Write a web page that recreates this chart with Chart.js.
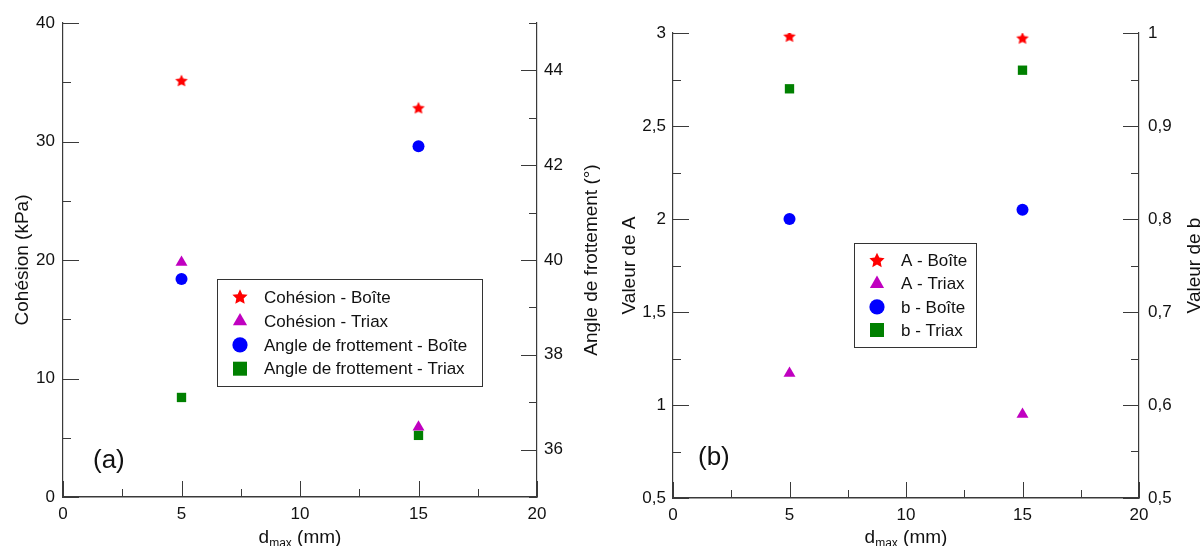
<!DOCTYPE html>
<html><head><meta charset="utf-8">
<script src="https://cdn.jsdelivr.net/npm/chart.js@4.4.1/dist/chart.umd.min.js"></script>
<style>
html,body{margin:0;padding:0;background:#fff;overflow:hidden}
#wrap{position:relative;width:1201px;height:546px;background:#fff}
#ca{position:absolute;left:0;top:0}
#cb{position:absolute;left:600px;top:0}
</style></head><body>
<div id="wrap"><canvas id="ca" width="600" height="546"></canvas><canvas id="cb" width="601" height="546"></canvas></div>
<script>
// ---------- DATA ----------
const dmax = [5, 15];
// panel (a)
const cohesionBoite = [35.1, 32.8];
const cohesionTriax = [19.8, 5.9];
const angleBoite = [39.6, 42.4];
const angleTriax = [37.1, 36.3];
// panel (b)
const aBoite = [2.98, 2.97];
const aTriax = [1.17, 0.95];
const bBoite = [0.80, 0.81];
const bTriax = [0.94, 0.96];
// ticks
const xTicks = [0, 5, 10, 15, 20];
const xMinor = [2.5, 7.5, 12.5, 17.5];
const cohesionTicks = [0, 10, 20, 30, 40];
const cohesionMinor = [5, 15, 25, 35];
const angleTicks = [36, 38, 40, 42, 44];
const angleMinor = [35, 37, 39, 41, 43, 45];
const aTicks = [0.5, 1, 1.5, 2, 2.5, 3];
const aMinor = [0.75, 1.25, 1.75, 2.25, 2.75];
const bTicks = [0.5, 0.6, 0.7, 0.8, 0.9, 1];
const bMinor = [0.55, 0.65, 0.75, 0.85, 0.95];
const labelsA = ['Cohésion - Boîte', 'Cohésion - Triax', 'Angle de frottement - Boîte', 'Angle de frottement - Triax'];
const labelsB = ['A - Boîte', 'A - Triax', 'b - Boîte', 'b - Triax'];

// ---------- STYLE ----------
const FONT = '"Liberation Sans", Arial, Helvetica, sans-serif';
const TXT = '#111';
const AXIS = '#3a3a3a';
const RED = '#ff0000', MAG = '#c000c0', BLUE = '#0000ff', GREEN = '#008000';

function starPath(ctx, cx, cy, R, ratio) {
  const r = R * ratio;
  ctx.beginPath();
  for (let i = 0; i < 10; i++) {
    const rad = -Math.PI / 2 + i * Math.PI / 5;
    const rr = i % 2 === 0 ? R : r;
    const x = cx + Math.cos(rad) * rr, y = cy + Math.sin(rad) * rr;
    if (i === 0) ctx.moveTo(x, y); else ctx.lineTo(x, y);
  }
  ctx.closePath();
}
function makeStar(R, color) {
  const c = document.createElement('canvas');
  const s = Math.ceil(R * 2 + 2);
  c.width = s; c.height = s;
  const g = c.getContext('2d');
  g.fillStyle = color;
  starPath(g, s / 2, s / 2, R, 0.48);
  g.fill();
  return c;
}
const starImg = makeStar(6.6, RED);

function drawMarker(ctx, style, color, x, y) {
  ctx.fillStyle = color;
  if (style === 'star') { starPath(ctx, x, y, 8, 0.48); ctx.fill(); }
  else if (style === 'triangle') {
    const r = 8.2;
    ctx.beginPath();
    ctx.moveTo(x, y - r);
    ctx.lineTo(x + r * Math.sin(2 * Math.PI / 3), y - r * Math.cos(2 * Math.PI / 3));
    ctx.lineTo(x + r * Math.sin(4 * Math.PI / 3), y - r * Math.cos(4 * Math.PI / 3));
    ctx.closePath(); ctx.fill();
  } else if (style === 'circle') {
    ctx.beginPath(); ctx.arc(x, y, 7.6, 0, Math.PI * 2); ctx.fill();
  } else if (style === 'rect') {
    ctx.fillRect(x - 7, y - 7, 14, 14);
  }
}

const pts = (ys) => dmax.map((x, i) => ({ x: x, y: ys[i] }));
const fix = (arr) => (s) => { s.ticks = arr.map(v => ({ value: v })); };
const comma = (v) => String(Math.round(v * 100) / 100).replace('.', ',');

function makeDeco(cfg) {
  return {
    id: 'deco',
    afterDraw(chart) {
      const ctx = chart.ctx, ca = chart.chartArea;
      const sx = chart.scales.x, sy = chart.scales.y, sy1 = chart.scales.y1;
      ctx.save();
      ctx.strokeStyle = AXIS; ctx.lineWidth = 1;
      const tick = (scale, vals, len, side) => {
        vals.forEach(v => {
          const p = Math.round(scale.getPixelForValue(v)) + 0.5;
          ctx.beginPath();
          if (side === 'l') { ctx.moveTo(ca.left, p); ctx.lineTo(ca.left + len, p); }
          else if (side === 'r') { ctx.moveTo(ca.right, p); ctx.lineTo(ca.right - len, p); }
          else { ctx.moveTo(p, ca.bottom); ctx.lineTo(p, ca.bottom - len); }
          ctx.stroke();
        });
      };
      tick(sx, cfg.xMajor, 16, 'b'); tick(sx, cfg.xMinor, 8, 'b');
      tick(sy, cfg.yMajor, 16, 'l'); tick(sy, cfg.yMinor, 8, 'l');
      tick(sy1, cfg.y1Major, 16, 'r'); tick(sy1, cfg.y1Minor, 8, 'r');

      // axis titles (rotated, reading bottom-to-top)
      ctx.fillStyle = TXT;
      ctx.font = '19px ' + FONT;
      ctx.textAlign = 'center'; ctx.textBaseline = 'alphabetic';
      const cy = (ca.top + ca.bottom) / 2;
      [[cfg.leftTitle, cfg.leftTitleX], [cfg.rightTitle, cfg.rightTitleX]].forEach(([t, x]) => {
        ctx.save(); ctx.translate(x, cy); ctx.rotate(-Math.PI / 2); ctx.fillText(t, 0, 0); ctx.restore();
      });
      // x title: d_max (mm)
      const f1 = '19px ' + FONT, f2 = '12px ' + FONT;
      ctx.textAlign = 'left';
      ctx.font = f1; const w1 = ctx.measureText('d').width, w3 = ctx.measureText(' (mm)').width;
      ctx.font = f2; const w2 = ctx.measureText('max').width;
      let x0 = (ca.left + ca.right) / 2 - (w1 + w2 + w3) / 2;
      const by = 543;
      ctx.font = f1; ctx.fillText('d', x0, by);
      ctx.font = f2; ctx.fillText('max', x0 + w1, by + 4);
      ctx.font = f1; ctx.fillText(' (mm)', x0 + w1 + w2, by);

      // panel label
      ctx.font = '26px ' + FONT;
      ctx.textBaseline = 'middle';
      ctx.fillText(cfg.panel, ca.left + cfg.panelDx, cfg.panelY);

      // legend
      const L = cfg.legend;
      ctx.fillStyle = '#fff';
      ctx.fillRect(L.x, L.y, L.w, L.h);
      ctx.strokeStyle = '#333'; ctx.lineWidth = 1;
      ctx.strokeRect(Math.round(L.x) + 0.5, Math.round(L.y) + 0.5, L.w, L.h);
      ctx.font = '17px ' + FONT;
      ctx.textBaseline = 'middle'; ctx.textAlign = 'left';
      chart.data.datasets.forEach((ds, i) => {
        const yy = L.firstRow + i * L.rowH;
        drawMarker(ctx, cfg.styles[i], ds.backgroundColor, L.markerX, yy);
        ctx.fillStyle = TXT;
        ctx.fillText(ds.label, L.textX, yy + 1);
      });
      ctx.restore();
    }
  };
}

function baseScales(o) {
  const tickFont = { family: FONT, size: 17 };
  return {
    x: {
      type: 'linear', position: 'bottom', min: 0, max: 20,
      afterBuildTicks: fix(xTicks),
      afterFit: (s) => { s.height = o.xH; },
      grid: { drawOnChartArea: false, drawTicks: false },
      border: { color: AXIS, width: 1.4 },
      ticks: { font: tickFont, color: TXT, padding: 7, maxRotation: 0, autoSkip: false }
    },
    y: {
      type: 'linear', position: 'left', min: o.yMin, max: o.yMax,
      afterBuildTicks: fix(o.yTicks),
      afterFit: (s) => { s.width = o.yW; },
      grid: { drawOnChartArea: false, drawTicks: false },
      border: { color: AXIS, width: 1.2 },
      ticks: { font: tickFont, color: TXT, padding: o.yPad, callback: o.yFmt }
    },
    y1: {
      type: 'linear', position: 'right', min: o.y1Min, max: o.y1Max,
      afterBuildTicks: fix(o.y1Ticks),
      afterFit: (s) => { s.width = o.y1W; },
      grid: { drawOnChartArea: false, drawTicks: false },
      border: { color: AXIS, width: 1.2 },
      ticks: { font: tickFont, color: TXT, padding: o.y1Pad, callback: o.y1Fmt }
    }
  };
}

function ds(label, data, axis, color, style, radius) {
  return {
    label: label, data: data, yAxisID: axis, showLine: false,
    backgroundColor: color, borderColor: color, borderWidth: 0,
    pointStyle: style, pointRadius: radius, pointHoverRadius: radius, pointBorderWidth: 0
  };
}

const common = {
  responsive: false, animation: false, devicePixelRatio: 1,
  plugins: { legend: { display: false }, tooltip: { enabled: false }, title: { display: false } },
  events: []
};

new Chart(document.getElementById('ca'), {
  type: 'scatter',
  data: {
    datasets: [
      ds(labelsA[0], pts(cohesionBoite), 'y', RED, starImg, 6),
      ds(labelsA[1], pts(cohesionTriax), 'y', MAG, 'triangle', 6.9),
      ds(labelsA[2], pts(angleBoite), 'y1', BLUE, 'circle', 6),
      ds(labelsA[3], pts(angleTriax), 'y1', GREEN, 'rect', 6.6)
    ]
  },
  options: Object.assign({}, common, {
    layout: { padding: { top: 23, left: 0, right: 0, bottom: 0 } },
    scales: baseScales({
      xH: 49, yMin: 0, yMax: 40, yTicks: cohesionTicks, yW: 63, yPad: 8, yFmt: (v) => String(v),
      y1Min: 35, y1Max: 45, y1Ticks: angleTicks, y1W: 63, y1Pad: 7, y1Fmt: (v) => String(v)
    })
  }),
  plugins: [makeDeco({
    xMajor: xTicks, xMinor: xMinor, yMajor: cohesionTicks, yMinor: cohesionMinor,
    y1Major: angleTicks, y1Minor: angleMinor,
    leftTitle: 'Cohésion (kPa)', leftTitleX: 28,
    rightTitle: 'Angle de frottement (°)', rightTitleX: 596.5,
    panel: '(a)', panelDx: 30, panelY: 461,
    styles: ['star', 'triangle', 'circle', 'rect'],
    legend: { x: 217, y: 279, w: 265, h: 107, markerX: 240, textX: 264, firstRow: 297.3, rowH: 23.8 }
  })]
});

new Chart(document.getElementById('cb'), {
  type: 'scatter',
  data: {
    datasets: [
      ds(labelsB[0], pts(aBoite), 'y', RED, starImg, 6),
      ds(labelsB[1], pts(aTriax), 'y', MAG, 'triangle', 6.9),
      ds(labelsB[2], pts(bBoite), 'y1', BLUE, 'circle', 6),
      ds(labelsB[3], pts(bTriax), 'y1', GREEN, 'rect', 6.6)
    ]
  },
  options: Object.assign({}, common, {
    layout: { padding: { top: 33, left: 0, right: 0, bottom: 0 } },
    scales: baseScales({
      xH: 48, yMin: 0.5, yMax: 3, yTicks: aTicks, yW: 73, yPad: 7, yFmt: comma,
      y1Min: 0.5, y1Max: 1, y1Ticks: bTicks, y1W: 62, y1Pad: 9, y1Fmt: comma
    })
  }),
  plugins: [makeDeco({
    xMajor: xTicks, xMinor: xMinor, yMajor: aTicks, yMinor: aMinor,
    y1Major: bTicks, y1Minor: bMinor,
    leftTitle: 'Valeur de A', leftTitleX: 34.5,
    rightTitle: 'Valeur de b', rightTitleX: 600,
    panel: '(b)', panelDx: 25, panelY: 458,
    styles: ['star', 'triangle', 'circle', 'rect'],
    legend: { x: 254, y: 243, w: 122, h: 104, markerX: 277, textX: 301, firstRow: 260.7, rowH: 23.1 }
  })]
});
</script>
</body></html>
